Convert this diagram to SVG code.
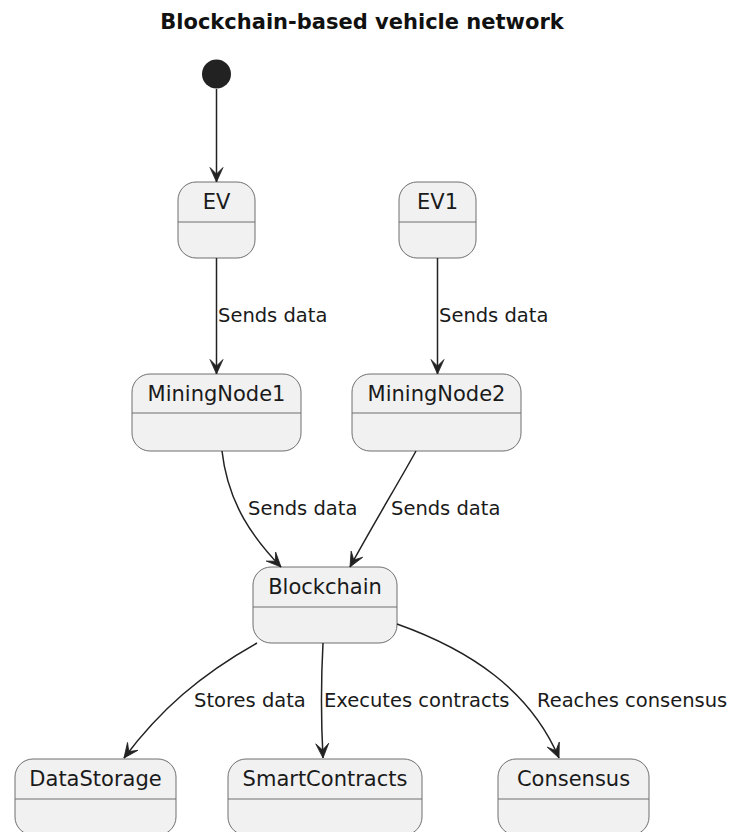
<svg xmlns="http://www.w3.org/2000/svg" width="730" height="832" viewBox="0 0 730 832">
  <style>
    .title { font-family: "DejaVu Sans", sans-serif; font-size: 21px; font-weight: bold; fill: #111; }
    .box { fill: #F1F1F1; stroke: #6f6f6f; stroke-width: 1; }
    .div { stroke: #6f6f6f; stroke-width: 1; }
    .name { font-family: "DejaVu Sans", sans-serif; font-size: 21px; fill: #1a1a1a; text-anchor: middle; }
    .edge { fill: none; stroke: #222; stroke-width: 1.5; marker-end: url(#arrow); }
    .label { font-family: "DejaVu Sans", sans-serif; font-size: 19.5px; fill: #1a1a1a; }
  </style>
  <defs>
    <marker id="arrow" viewBox="-16 -8 17 16" refX="0" refY="0" markerWidth="17" markerHeight="16" markerUnits="userSpaceOnUse" orient="auto">
      <path d="M0,0 L-14.5,-6.5 L-8,0 L-14.5,6.5 Z" fill="#222" stroke="#222" stroke-width="0.8" stroke-linejoin="round"/>
    </marker>
  </defs>

  <text class="title" x="362" y="29" text-anchor="middle">Blockchain-based vehicle network</text>

  <!-- initial pseudo-state -->
  <g id="start">
    <circle cx="216.5" cy="74" r="14.5" fill="#222222"/>
  </g>

  <!-- states -->
  <g id="EV">
    <rect class="box" x="178" y="182" width="77" height="76" rx="18" ry="18"/>
    <line class="div" x1="178" y1="222" x2="255" y2="222"/>
    <text class="name" x="216.5" y="209">EV</text>
  </g>
  <g id="EV1">
    <rect class="box" x="399" y="182" width="77" height="76" rx="18" ry="18"/>
    <line class="div" x1="399" y1="222" x2="476" y2="222"/>
    <text class="name" x="437.5" y="209">EV1</text>
  </g>
  <g id="MiningNode1">
    <rect class="box" x="132" y="374" width="169" height="77" rx="18" ry="18"/>
    <line class="div" x1="132" y1="413" x2="301" y2="413"/>
    <text class="name" x="216.5" y="401">MiningNode1</text>
  </g>
  <g id="MiningNode2">
    <rect class="box" x="352" y="374" width="169" height="77" rx="18" ry="18"/>
    <line class="div" x1="352" y1="413" x2="521" y2="413"/>
    <text class="name" x="436.5" y="401">MiningNode2</text>
  </g>
  <g id="Blockchain">
    <rect class="box" x="253" y="567" width="144" height="76" rx="18" ry="18"/>
    <line class="div" x1="253" y1="607" x2="397" y2="607"/>
    <text class="name" x="325" y="594">Blockchain</text>
  </g>
  <g id="DataStorage">
    <rect class="box" x="15" y="759" width="161" height="76" rx="18" ry="18"/>
    <line class="div" x1="15" y1="799" x2="176" y2="799"/>
    <text class="name" x="95.5" y="786">DataStorage</text>
  </g>
  <g id="SmartContracts">
    <rect class="box" x="228" y="759" width="194" height="76" rx="18" ry="18"/>
    <line class="div" x1="228" y1="799" x2="422" y2="799"/>
    <text class="name" x="325" y="786">SmartContracts</text>
  </g>
  <g id="Consensus">
    <rect class="box" x="498" y="759" width="151" height="76" rx="18" ry="18"/>
    <line class="div" x1="498" y1="799" x2="649" y2="799"/>
    <text class="name" x="573.5" y="786">Consensus</text>
  </g>

  <!-- transitions -->
  <g id="connectors">
    <path class="edge" d="M216.5,89 L216.5,182"/>
    <path class="edge" d="M216.5,258 L216.5,374"/>
    <path class="edge" d="M437.5,258 L437.5,374"/>
    <path class="edge" d="M222,451 C228,505 255,540 281,567"/>
    <path class="edge" d="M416,451 C400,480 370,530 350,567"/>
    <path class="edge" d="M257,643 C200,675 160,710 124,758"/>
    <path class="edge" d="M323,643 C321,680 321,720 323,758"/>
    <path class="edge" d="M397,624 C470,650 530,690 559,758"/>

    <text class="label" x="218" y="322">Sends data</text>
    <text class="label" x="439" y="322">Sends data</text>
    <text class="label" x="248" y="515">Sends data</text>
    <text class="label" x="391" y="515">Sends data</text>
    <text class="label" x="194" y="707">Stores data</text>
    <text class="label" x="324" y="707">Executes contracts</text>
    <text class="label" x="537" y="707">Reaches consensus</text>
  </g>
</svg>
